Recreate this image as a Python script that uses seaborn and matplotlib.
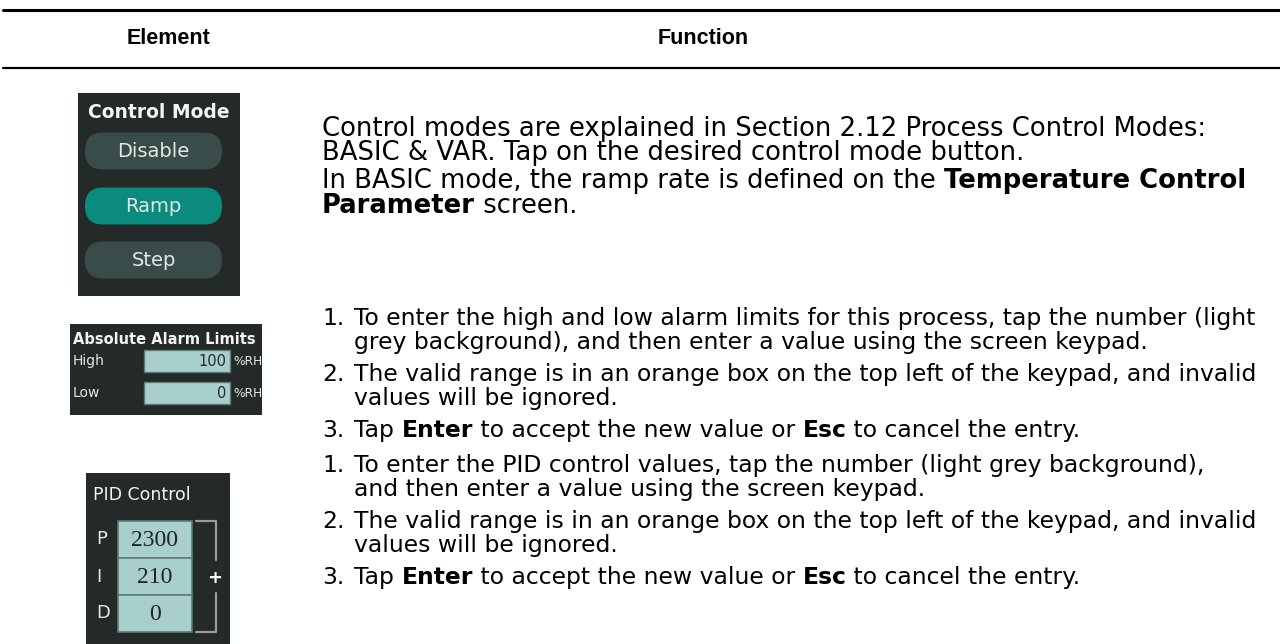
import numpy as np
import pandas as pd
import matplotlib.pyplot as plt
import seaborn as sns
from matplotlib.patches import FancyBboxPatch, Rectangle

# ---- content ----
headers = ["Element", "Function"]
modes = ["Disable", "Ramp", "Step"]
active_mode = "Ramp"
alarm_rows = ["High", "Low"]
alarm_vals = ["100", "0"]
alarm_unit = "%RH"
pid_rows = ["P", "I", "D"]
pid_vals = ["2300", "210", "0"]

# paragraph lines as runs of (text, bold)
intro_lines = [
    [("Control modes are explained in Section 2.12 Process Control Modes:", False)],
    [("BASIC & VAR. Tap on the desired control mode button.", False)],
    [("In BASIC mode, the ramp rate is defined on the ", False), ("Temperature Control", True)],
    [("Parameter", True), (" screen.", False)],
]
alarm_items = [
    ("1.", [[("To enter the high and low alarm limits for this process, tap the number (light", False)],
            [("grey background), and then enter a value using the screen keypad.", False)]]),
    ("2.", [[("The valid range is in an orange box on the top left of the keypad, and invalid", False)],
            [("values will be ignored.", False)]]),
    ("3.", [[("Tap ", False), ("Enter", True), (" to accept the new value or ", False), ("Esc", True),
             (" to cancel the entry.", False)]]),
]
pid_items = [
    ("1.", [[("To enter the PID control values, tap the number (light grey background),", False)],
            [("and then enter a value using the screen keypad.", False)]]),
    ("2.", [[("The valid range is in an orange box on the top left of the keypad, and invalid", False)],
            [("values will be ignored.", False)]]),
    ("3.", [[("Tap ", False), ("Enter", True), (" to accept the new value or ", False), ("Esc", True),
             (" to cancel the entry.", False)]]),
]

sns.set_theme(style="white")
plt.rcParams['font.family'] = ['DejaVu Sans']

W, H = 1280, 644
fig = plt.figure(figsize=(W / 100, H / 100), dpi=100)
ax = fig.add_axes([0, 0, 1, 1])
ax.set_xlim(0, W)
ax.set_ylim(H, 0)
ax.axis("off")
renderer = fig.canvas.get_renderer()

INTRO = 18.6
BODY = 16.9
PANEL = "#232a28"
BTN = "#3a4c49"
BTN_ON = "#0b8a7e"
FIELD = "#a9cfcd"
FIELD_EDGE = "#5b7b78"
LIGHT = "#e2e8e6"


def text_width(s, **kw):
    a = ax.text(0, 0, s + "|", **kw)
    b = ax.text(0, 0, "|", **kw)
    w = a.get_window_extent(renderer).width - b.get_window_extent(renderer).width
    a.remove()
    b.remove()
    return w


def draw_runs(x, y, runs, size):
    for txt, bold in runs:
        kw = dict(fontsize=size, fontweight="bold" if bold else "normal", color="black")
        ax.text(x, y, txt, va="baseline", ha="left", **kw)
        x += text_width(txt, **kw)


# rules and header
ax.plot([3, W], [10, 10], color="black", lw=2.2)
ax.plot([3, W], [68, 68], color="black", lw=1.6)
for lab, hx in zip(headers, [169, 703]):
    ax.text(hx, 38, lab, ha="center", va="center", fontsize=15.5, fontweight="bold",
            family="Liberation Sans", color="black")

# body text
TX, IND = 322, 354
for line, yb in zip(intro_lines, [136, 160, 188, 213]):
    draw_runs(TX, yb, line, INTRO)

y = 324.5
for items in (alarm_items, pid_items):
    for num, lines in items:
        ax.text(TX, y, num, va="baseline", ha="left", fontsize=BODY, color="black")
        for line in lines:
            draw_runs(IND, y, line, BODY)
            y += 24.2
        y += 7.8
    y += 3

# ---- widget 1: Control Mode ----
ax.add_patch(Rectangle((78, 93), 162, 203, color=PANEL, lw=0))
ax.text(159, 112, "Control Mode", ha="center", va="center", color="#f4f4f4",
        fontsize=13.5, fontweight="bold")
btn_y = [151, 206, 260]
for m, by in zip(modes, btn_y):
    col = BTN_ON if m == active_mode else BTN
    ax.add_patch(FancyBboxPatch((85, by - 18.5), 137, 37,
                                boxstyle="round,pad=0,rounding_size=18", color=col, lw=0))
    ax.text(153.5, by, m, ha="center", va="center", color=LIGHT, fontsize=14)

# ---- widget 2: Absolute Alarm Limits ----
ax.add_patch(Rectangle((70, 324), 192, 91, color=PANEL, lw=0))
ax.text(73, 339, "Absolute Alarm Limits", ha="left", va="center", color="#f4f4f4",
        fontsize=10.5, fontweight="bold")
for lab, val, ry in zip(alarm_rows, alarm_vals, [361, 393]):
    ax.text(73, ry, lab, ha="left", va="center", color=LIGHT, fontsize=10)
    ax.add_patch(Rectangle((144, ry - 11), 86, 22, facecolor=FIELD, edgecolor=FIELD_EDGE, lw=1))
    ax.text(226, ry, val, ha="right", va="center", color="#2a2a2a", fontsize=10.5)
    ax.text(233, ry, alarm_unit, ha="left", va="center", color=LIGHT, fontsize=8.8)

# ---- widget 3: PID Control ----
ax.add_patch(Rectangle((86, 473), 144, 171, color=PANEL, lw=0))
ax.text(93, 495, "PID Control", ha="left", va="center", color="#f4f4f4", fontsize=12.5)
for k, (lab, val) in enumerate(zip(pid_rows, pid_vals)):
    top = 521 + k * 37
    ax.text(96, top + 18.5, lab, ha="left", va="center", color=LIGHT, fontsize=13)
    ax.add_patch(Rectangle((118, top), 74, 37, facecolor=FIELD, edgecolor=FIELD_EDGE, lw=1.2))
    ax.text(155, top + 19.5, val, ha="center", va="center", color="#222222", fontsize=17,
            family="Liberation Serif")
br = "#9b9b9b"
ax.plot([196, 216, 216], [521, 521, 560], color=br, lw=1.6)
ax.plot([196, 216, 216], [632, 632, 593], color=br, lw=1.6)
ax.text(215, 578, "+", ha="center", va="center", color="white", fontsize=13, fontweight="bold")

fig.savefig("out.png", dpi=100)
